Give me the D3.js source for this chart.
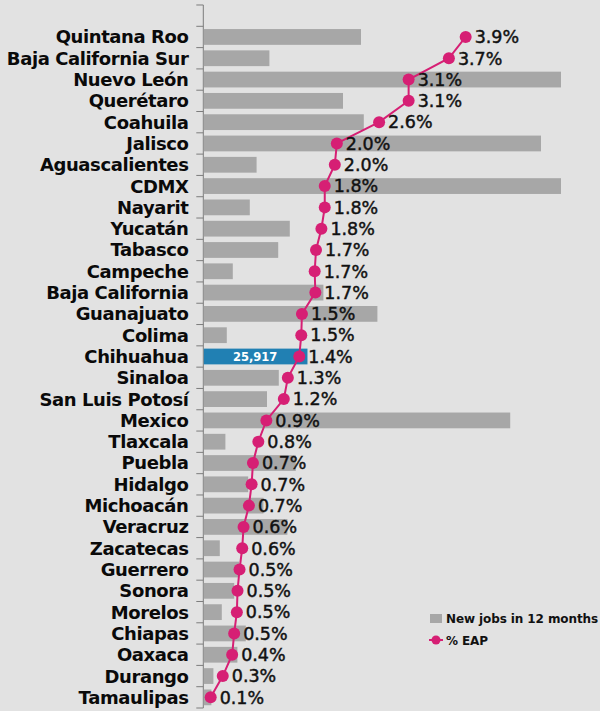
<!DOCTYPE html>
<html>
<head>
<meta charset="utf-8">
<script src="https://cdn.jsdelivr.net/npm/d3@7"></script>
<style>
  html, body { margin: 0; padding: 0; background: #e2e2e2; }
  svg { display: block; }
  .state { font-family: "DejaVu Sans", sans-serif; font-weight: bold; font-size: 18px; fill: #0a0a0a; letter-spacing: -0.4px; }
  .pct { font-family: "DejaVu Sans", sans-serif; font-size: 17.5px; fill: #111; stroke: #111; stroke-width: 0.45px; }
  .legend { font-family: "DejaVu Sans", sans-serif; font-weight: bold; font-size: 12px; fill: #111; letter-spacing: -0.1px; }
</style>
</head>
<body>
<div id="chart"></div>
<script>
const states = ['Quintana Roo', 'Baja California Sur', 'Nuevo León', 'Querétaro', 'Coahuila', 'Jalisco',
  'Aguascalientes', 'CDMX', 'Nayarit', 'Yucatán', 'Tabasco', 'Campeche', 'Baja California', 'Guanajuato',
  'Colima', 'Chihuahua', 'Sinaloa', 'San Luis Potosí', 'Mexico', 'Tlaxcala', 'Puebla', 'Hidalgo',
  'Michoacán', 'Veracruz', 'Zacatecas', 'Guerrero', 'Sonora', 'Morelos', 'Chiapas', 'Oaxaca',
  'Durango', 'Tamaulipas'];

// new formal jobs in the last 12 months (only Chihuahua is labelled)
const newJobs = [39300, 16400, 89300, 34800, 40000, 84300, 13200, 89300, 11500, 21500, 18600, 7250,
  29900, 43400, 5750, 25917, 18750, 15800, 76600, 5400, 23000, 11100, 14900, 20900, 4000, 8800,
  7600, 4500, 10500, 8400, 2400, 1900];

// new jobs as % of economically active population
const eap = [3.91, 3.66, 3.06, 3.06, 2.62, 1.99, 1.96, 1.81, 1.81, 1.76, 1.68, 1.66, 1.67, 1.47,
  1.46, 1.43, 1.26, 1.20, 0.94, 0.82, 0.74, 0.72, 0.68, 0.60, 0.58, 0.54, 0.51, 0.50, 0.46, 0.43,
  0.29, 0.11];

const highlight = 'Chihuahua';
const legendItems = ['New jobs in 12 months', '% EAP'];

const width = 600, height = 711;
const axisX = 203.3;
const barColor = '#a7a7a7', hiColor = '#2180b3', lineColor = '#d61f74';

const data = states.map((s, i) => ({ state: s, jobs: newJobs[i], eap: eap[i] }));

const svg = d3.select('#chart').append('svg')
  .attr('width', width)
  .attr('height', height);

svg.append('rect').attr('width', width).attr('height', height).attr('fill', '#e2e2e2');

const y = d3.scaleBand()
  .domain(states)
  .range([26.3, 708])
  .paddingInner(0.26)
  .paddingOuter(0.13);

const xJobs = d3.scaleLinear().domain([0, 100000]).range([axisX, axisX + 400]);
const xEap = d3.scaleLinear().domain([0, 4]).range([axisX, axisX + 268.4]);

// axis line + ticks at band boundaries (one empty slot above the first state)
const step = y.step();
const y0 = y.range()[0];
const tickYs = d3.range(-1, states.length + 1).map(i => y0 + i * step);

svg.append('line')
  .attr('x1', axisX).attr('x2', axisX)
  .attr('y1', tickYs[0]).attr('y2', tickYs[tickYs.length - 1])
  .attr('stroke', '#7c7c7c').attr('stroke-width', 1);

svg.selectAll('line.tick')
  .data(tickYs)
  .join('line')
  .attr('class', 'tick')
  .attr('x1', axisX - 7).attr('x2', axisX)
  .attr('y1', d => d).attr('y2', d => d)
  .attr('stroke', '#7c7c7c').attr('stroke-width', 1);

// bars
svg.selectAll('rect.bar')
  .data(data)
  .join('rect')
  .attr('class', 'bar')
  .attr('x', axisX + 0.5)
  .attr('y', d => y(d.state))
  .attr('width', d => xJobs(d.jobs) - axisX)
  .attr('height', y.bandwidth())
  .attr('fill', d => d.state === highlight ? hiColor : barColor);

const hi = data.find(d => d.state === highlight);
svg.append('text')
  .attr('x', (axisX + xJobs(hi.jobs)) / 2)
  .attr('y', y(hi.state) + y.bandwidth() / 2)
  .attr('dy', '0.36em')
  .attr('text-anchor', 'middle')
  .attr('font-family', '"DejaVu Sans", sans-serif')
  .attr('font-weight', 'bold')
  .attr('font-size', 11.5)
  .attr('fill', '#fff')
  .text(d3.format(',')(hi.jobs));

// state labels
svg.selectAll('text.state')
  .data(data)
  .join('text')
  .attr('class', 'state')
  .attr('x', 188.5)
  .attr('y', d => y(d.state) + y.bandwidth() / 2)
  .attr('dy', '0.36em')
  .attr('text-anchor', 'end')
  .text(d => d.state);

// % EAP line
const cy = d => y(d.state) + y.bandwidth() / 2;
const line = d3.line().x(d => xEap(d.eap)).y(cy);

svg.append('path')
  .datum(data)
  .attr('d', line)
  .attr('fill', 'none')
  .attr('stroke', lineColor)
  .attr('stroke-width', 2);

svg.selectAll('circle.dot')
  .data(data)
  .join('circle')
  .attr('class', 'dot')
  .attr('cx', d => xEap(d.eap))
  .attr('cy', cy)
  .attr('r', 6)
  .attr('fill', lineColor);

svg.selectAll('text.pct')
  .data(data)
  .join('text')
  .attr('class', 'pct')
  .attr('x', d => xEap(d.eap) + 9)
  .attr('y', cy)
  .attr('dy', '0.36em')
  .text(d => d.eap.toFixed(1) + '%');

// legend
const lg = svg.append('g').attr('transform', 'translate(430,0)');
lg.append('rect').attr('x', 0).attr('y', 614).attr('width', 12).attr('height', 9).attr('fill', barColor);
lg.append('text').attr('class', 'legend').attr('x', 16).attr('y', 623).text(legendItems[0]);
lg.append('line').attr('x1', -1).attr('x2', 13).attr('y1', 640).attr('y2', 640)
  .attr('stroke', lineColor).attr('stroke-width', 2);
lg.append('circle').attr('cx', 6).attr('cy', 640).attr('r', 4.5).attr('fill', lineColor);
lg.append('text').attr('class', 'legend').attr('x', 16).attr('y', 645).text(legendItems[1]);
</script>
</body>
</html>
